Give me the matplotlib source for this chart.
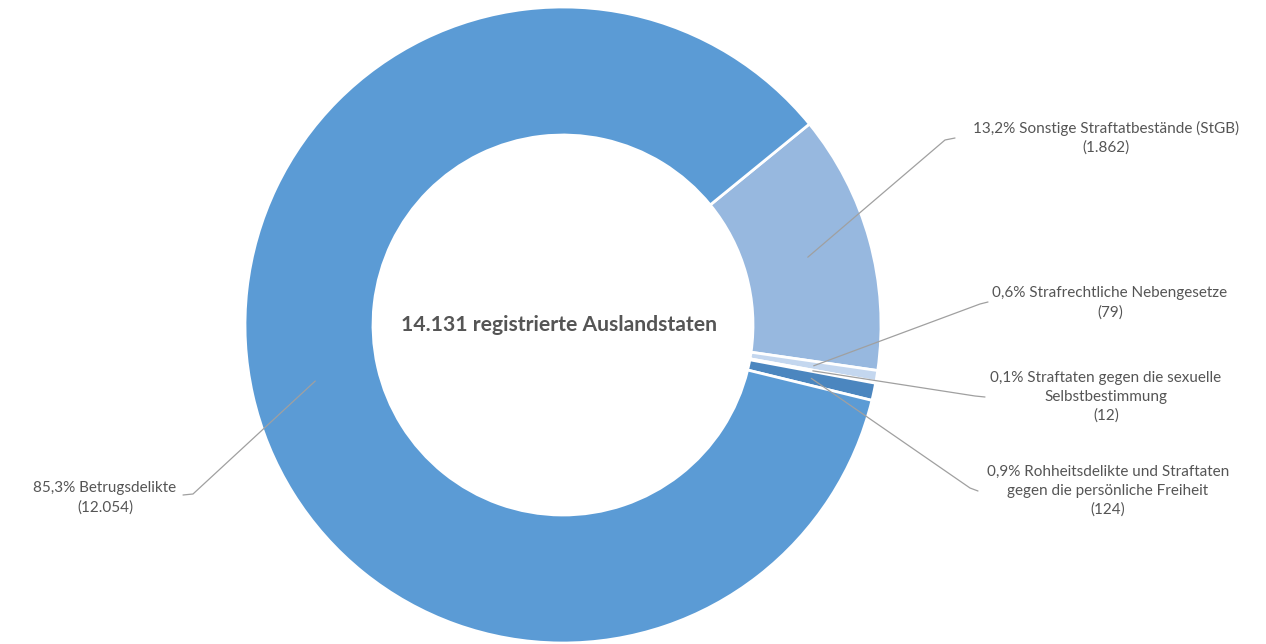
import numpy as np
import matplotlib.pyplot as plt

# Data (clockwise order, starting at the Sonstige slice)
categories = [
    "Sonstige Straftatbestände (StGB)",
    "Strafrechtliche Nebengesetze",
    "Straftaten gegen die sexuelle\nSelbstbestimmung",
    "Rohheitsdelikte und Straftaten\ngegen die persönliche Freiheit",
    "Betrugsdelikte",
]
counts = [1862, 79, 12, 124, 12054]
percent_labels = ["13,2%", "0,6%", "0,1%", "0,9%", "85,3%"]
count_labels = ["1.862", "79", "12", "124", "12.054"]
total_label = "14.131 registrierte Auslandstaten"

colors = ["#97b8df", "#c4d7ef", "#a9c6e8", "#4b86bf", "#5b9bd5"]

W, H = 1266, 644
fig = plt.figure(figsize=(W / 100, H / 100), dpi=100)
ax = fig.add_axes([0, 0, 1, 1])

cx, cy = 563, H - 325
r_out, r_in = 318, 190
start = 39.2

wedges, _ = ax.pie(
    counts,
    colors=colors,
    startangle=start,
    counterclock=False,
    radius=r_out,
    center=(cx, cy),
    wedgeprops=dict(width=r_out - r_in, edgecolor="white", linewidth=2),
)

ax.set_xlim(0, W)
ax.set_ylim(0, H)
ax.set_aspect("equal")
ax.axis("off")

# label layout (pixel coords from top): text centre, elbow, line end
label_pos = [
    ((1106, 138), (945, 140), (955, 138)),
    ((1110, 303), (980, 304), (988, 302)),
    ((1106, 397), (975, 396), (985, 397)),
    ((1108, 491), (970, 488), (978, 491)),
    ((105, 498), (193, 494), (183, 495)),
]

total = sum(counts)
r_mid = (r_out + r_in) / 2
cum = 0
txt_color = "#555555"
for i, v in enumerate(counts):
    mid = start - (cum + v / 2) / total * 360
    cum += v
    a = np.deg2rad(mid)
    px, py = cx + r_mid * np.cos(a), cy + r_mid * np.sin(a)
    (tx, ty), (ex, ey), (lx, ly) = label_pos[i]
    ax.plot([px, ex, lx], [py, H - ey, H - ly], color="#a0a0a0", lw=0.9,
            solid_capstyle="round")
    ax.text(tx, H - ty,
            f"{percent_labels[i]} {categories[i]}\n({count_labels[i]})",
            ha="center", va="center", fontsize=11, family="Lato",
            color=txt_color, linespacing=1.42)

ax.text(cx - 4, H - 325, total_label, ha="center", va="center",
        fontsize=15.2, fontweight="bold", family="Lato", color=txt_color)

fig.savefig("out.png", dpi=100)
